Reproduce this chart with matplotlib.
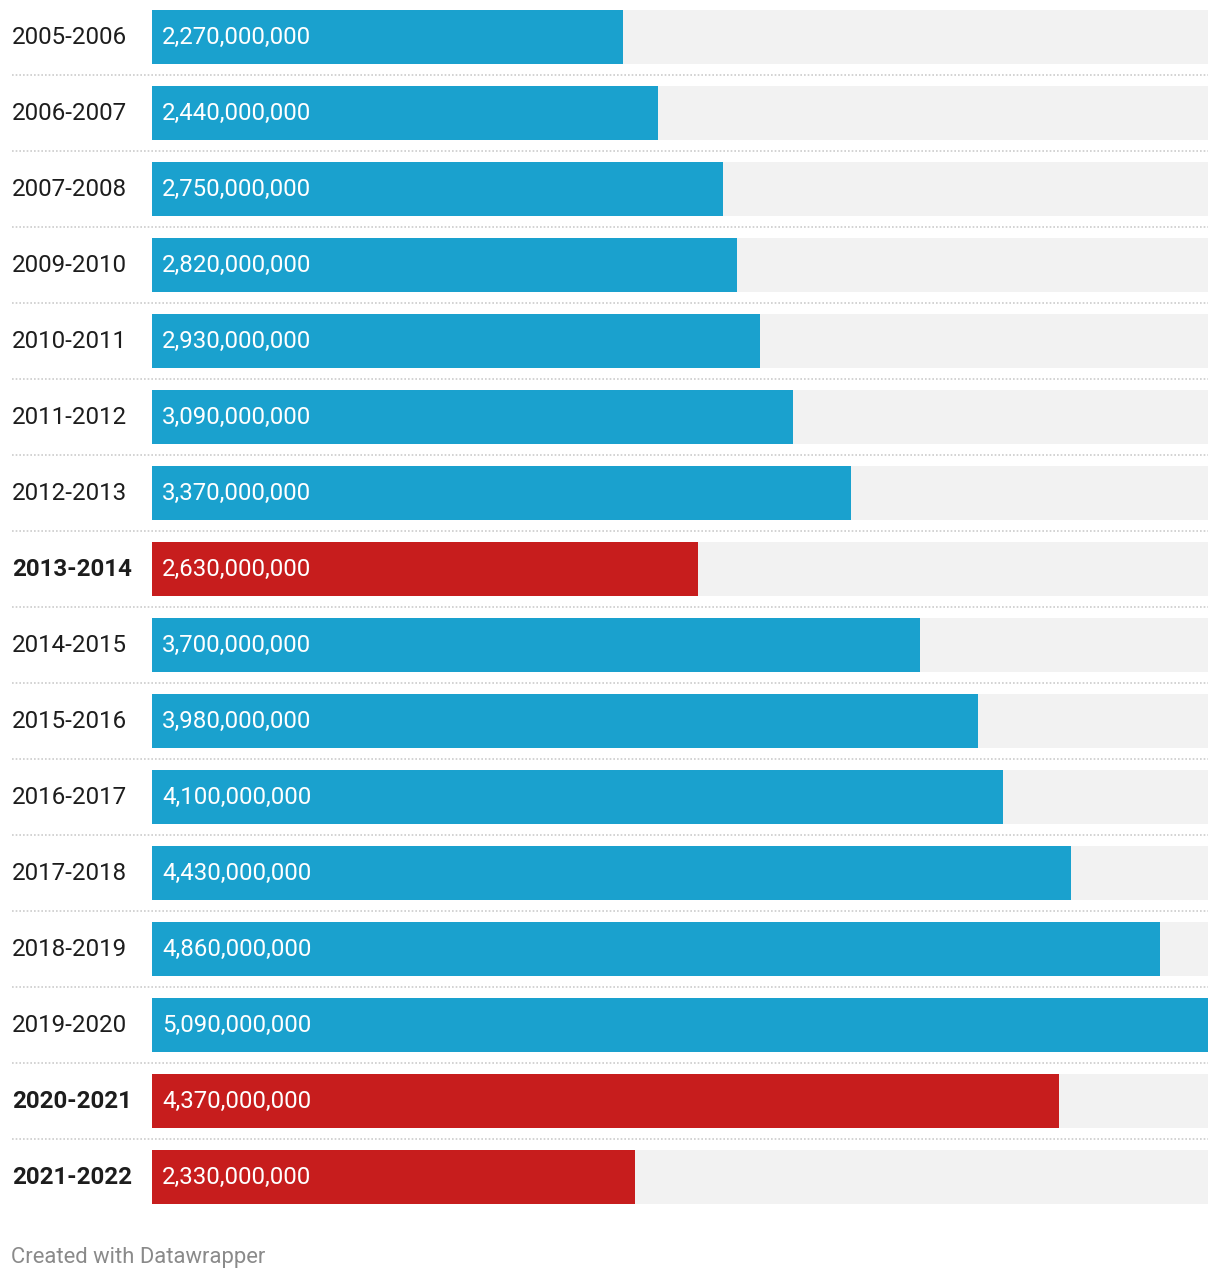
import matplotlib.pyplot as plt
import matplotlib.transforms as mtransforms

plt.rcParams['font.family'] = ['Roboto', 'DejaVu Sans']

periods = ["2005-2006", "2006-2007", "2007-2008", "2009-2010", "2010-2011",
           "2011-2012", "2012-2013", "2013-2014", "2014-2015", "2015-2016",
           "2016-2017", "2017-2018", "2018-2019", "2019-2020", "2020-2021",
           "2021-2022"]
values = [2.27e9, 2.44e9, 2.75e9, 2.82e9, 2.93e9, 3.09e9, 3.37e9, 2.63e9,
          3.70e9, 3.98e9, 4.10e9, 4.43e9, 4.86e9, 5.09e9, 4.37e9, 2.33e9]
highlight = ["2013-2014", "2020-2021", "2021-2022"]

BLUE = "#1aa1ce"
RED = "#c71d1d"
W, H = 1220, 1280
fig = plt.figure(figsize=(W / 100, H / 100), dpi=100)

# axes spans bar area horizontally, full height vertically
left, right = 152, 1208
ax = fig.add_axes([left / W, 0, (right - left) / W, 1])
vmax = max(values)
ax.set_xlim(0, vmax)
pitch = 76
first = 37
ax.set_ylim((H - first) / pitch, -first / pitch)
ax.axis("off")

n = len(periods)
ys = list(range(n))
bar_h = 54 / pitch
ax.barh(ys, [vmax] * n, height=bar_h, color="#f2f2f2", zorder=1)
colors = [RED if p in highlight else BLUE for p in periods]
ax.barh(ys, values, height=bar_h, color=colors, zorder=2)

trans = mtransforms.blended_transform_factory(ax.transAxes, ax.transData)
x_label = (12 - left) / (right - left)
x_val = 10 / (right - left)
dy = -2 / pitch  # nudge text up a little
for i, (p, v) in enumerate(zip(periods, values)):
    bold = p in highlight
    ax.text(x_label, i + dy, p, transform=trans, ha="left",
            va="center_baseline", fontsize=17.4, color="#1d1d1d",
            fontweight="bold" if bold else "normal", clip_on=False)
    ax.text(x_val, i + dy, f"{v:,.0f}", transform=trans, ha="left",
            va="center_baseline", fontsize=17.3, color="white", zorder=3)
    if i < n - 1:
        ax.plot([x_label, 1], [i + 0.5, i + 0.5], transform=trans,
                color="#cccccc", linestyle=(0, (1, 1.2)), linewidth=1.2,
                clip_on=False)

fig.text(11 / W, 1 - 1257 / H, "Created with Datawrapper", ha="left",
         va="center", fontsize=15.8, color="#8a8a8a")

fig.savefig("out.png", dpi=100)
